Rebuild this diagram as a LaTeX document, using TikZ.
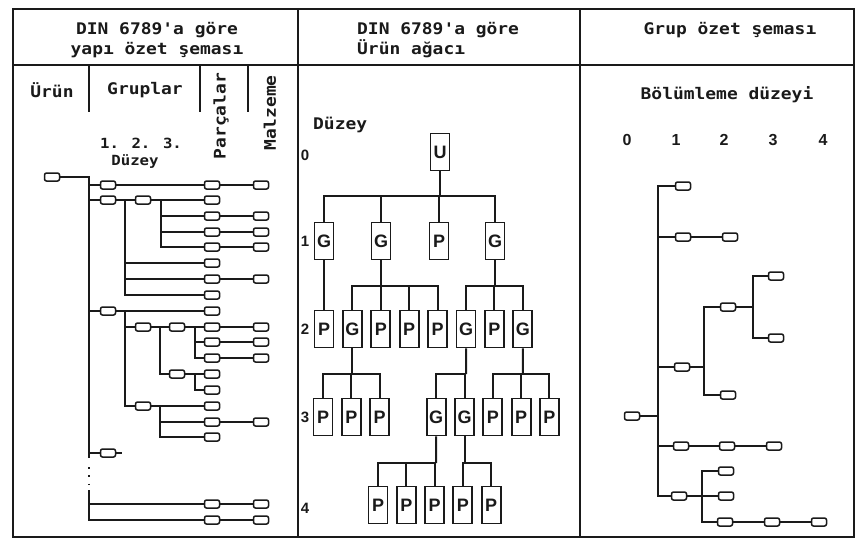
\documentclass[tikz,border=0pt]{standalone}
\usepackage{fontspec}
\usepackage{xcolor}
\usepackage{tikz}
\usetikzlibrary{positioning,calc}
\newfontfamily\dinfont[FakeStretch=1.12]{DejaVu Sans Mono}
\newfontfamily\helvfont{Liberation Sans}
\definecolor{scanblack}{HTML}{1A1A1A}

\tikzset{
  rule/.style={scanblack, line width=1.7pt},
  link/.style={scanblack, line width=1.6pt},
  trunk/.style={scanblack, line width=2pt},
  tinybox/.style={draw=scanblack, line width=1.5pt, rounded corners=2pt, minimum width=15pt, minimum height=8pt, inner sep=0pt, fill=white},
  treebox/.style={draw=scanblack, line width=1.9pt, minimum width=19pt, minimum height=37pt, inner sep=0pt, fill=white, text=scanblack, font=\helvfont\bfseries\fontsize{18}{18}\selectfont},
  headtext/.style={font=\dinfont\bfseries\fontsize{16}{20}\selectfont, inner sep=0pt, text=scanblack},
  smalltext/.style={font=\dinfont\bfseries\fontsize{14}{18}\selectfont, inner sep=0pt, text=scanblack},
  levelnum/.style={font=\helvfont\bfseries\fontsize{15}{15}\selectfont, inner sep=0pt, text=scanblack},
}

\begin{document}
\begin{tikzpicture}[x=1pt,y=-1pt]
  \useasboundingbox (0,0) rectangle (856,541);
  \fill[white] (0,0) rectangle (856,541);
  % frame and headers
  \draw[rule] (13,9) rectangle (854,537);
  \draw[rule] (13,65) -- (854,65);
  \draw[rule] (298,9) -- (298,537);
  \draw[rule] (580,9) -- (580,537);
  \foreach \x in {89,200,248}
    \draw[rule] (\x,65) -- (\x,112);
  \node[headtext, align=center] (head-left) at (157,40) {DIN 6789'a göre\\yapı özet şeması};
  \node[headtext, align=left, anchor=west] (head-mid) at (357,40) {DIN 6789'a göre\\Ürün ağacı};
  \node[headtext] (head-right) at (730,30) {Grup özet şeması};

  % left panel: structure summary
  \node[headtext] (col-urun) at (52,90) {Ürün};
  \node[headtext] (col-grup) at (145,90) {Gruplar};
  \node[headtext, rotate=90] (col-parca) at (221,116) {Parçalar};
  \node[headtext, rotate=90] (col-malz) at (270,113) {Malzeme};
  \node[smalltext] (lvl-grup) at (141,143) {1. 2. 3.};
  \node[smalltext] (lvl-duzey) at (135,162) {Düzey};

  \node[tinybox] (urun) at (52,177) {};
  \foreach \n/\y in {a/185,b/200,i/311,r/453}
    \node[tinybox] (g1-\n) at (108,\y) {};
  \foreach \n/\y in {b/200,j/327,o/406}
    \node[tinybox] (g2-\n) at (143,\y) {};
  \foreach \n/\y in {j/327,m/374}
    \node[tinybox] (g3-\n) at (177,\y) {};
  \foreach \n/\y in {a/185,b/200,c/216,d/232,e/247,f/263,g/279,h/295,i/311,j/327,k/342,l/358,m/374,n/390,o/406,p/422,q/437,s/504,t/520}
    \node[tinybox] (pa-\n) at (212,\y) {};
  \foreach \n/\y in {a/185,c/216,d/232,e/247,g/279,j/327,k/342,l/358,p/422,s/504,t/520}
    \node[tinybox] (ma-\n) at (261,\y) {};

  \coordinate (sp-top) at (89,177);
  \coordinate (sp-cut) at (89,458);
  \coordinate (sp-dot1) at (89,467);
  \coordinate (sp-dot2) at (89,486);
  \coordinate (sp-on) at (89,490);
  \coordinate (sp-bot) at (89,520);
  \draw[link] (urun) -- (sp-top) -- (sp-cut);
  \draw[link, dash pattern=on 1.6pt off 6.7pt] (sp-dot1) -- (sp-dot2);
  \draw[link] (sp-on) -- (sp-bot) -- (pa-t);
  \draw[link] (sp-on) |- (pa-s);
  \foreach \n in {a,b,i,r}
    \draw[link] (sp-top) |- (g1-\n);
  \foreach \n in {a,c,d,e,g,j,k,l,p,s,t}
    \draw[link] (pa-\n) -- (ma-\n);

  \draw[link] (g1-a) -- (pa-a);
  \draw[link] (g1-b) -- (g2-b) (g2-b) -- (pa-b);
  \coordinate (j1-b) at (125,200);
  \foreach \n in {f,g,h}
    \draw[link] (j1-b) |- (pa-\n);
  \coordinate (j2-b) at (161,200);
  \foreach \n in {c,d,e}
    \draw[link] (j2-b) |- (pa-\n);

  \draw[link] (g1-i) -- (pa-i);
  \coordinate (j1-i) at (125,311);
  \foreach \n in {j,o}
    \draw[link] (j1-i) |- (g2-\n);
  \draw[link] (g2-j) -- (g3-j) (g3-j) -- (pa-j);
  \coordinate (j2-j) at (160,327);
  \draw[link] (j2-j) |- (g3-m);
  \coordinate (j3-j) at (195,327);
  \foreach \n in {k,l}
    \draw[link] (j3-j) |- (pa-\n);
  \draw[link] (g3-m) -- (pa-m);
  \coordinate (j3-m) at (195,374);
  \draw[link] (j3-m) |- (pa-n);
  \draw[link] (g2-o) -- (pa-o);
  \coordinate (j2-o) at (160,406);
  \foreach \n in {p,q}
    \draw[link] (j2-o) |- (pa-\n);
  \coordinate (stub-r) at (122,453);
  \draw[link] (g1-r) -- (stub-r);

  % middle panel: product tree
  \node[headtext, anchor=west] (duzey-mid) at (313,125) {Düzey};
  \foreach \d/\y in {0/155,1/241,2/329,3/417,4/508}
    \node[levelnum] (lv\d) at (305,\y) {\d};

  \node[treebox] (u) at (440,152) {U};
  \foreach \i/\x/\t in {1/324/G,2/381/G,3/439/P,4/495/G}
    \node[treebox] (t1-\i) at (\x,241) {\t};
  \foreach \t [count=\i from 0] in {P,G,P,P,P,G,P,G}
    \node[treebox] (t2-\i) at ({324+28.4*\i},329) {\t};
  \foreach \i/\t in {0/P,1/P,2/P,4/G,5/G,6/P,7/P,8/P}
    \node[treebox] (t3-\i) at ({323+28.3*\i},417) {\t};
  \foreach \i in {0,...,4}
    \node[treebox] (t4-\i) at ({378+28.3*\i},505) {P};

  \coordinate (k0) at (440,196);
  \draw[trunk] (u) -- (k0);
  \foreach \i in {1,...,4}
    \draw[trunk] (t1-\i) |- (k0);
  \draw[trunk] (t1-1) -- (t2-0);
  \coordinate (k12) at (381,286);
  \draw[trunk] (t1-2) -- (k12);
  \foreach \i in {1,...,4}
    \draw[trunk] (t2-\i) |- (k12);
  \coordinate (k14) at (495,286);
  \draw[trunk] (t1-4) -- (k14);
  \foreach \i in {5,6,7}
    \draw[trunk] (t2-\i) |- (k14);
  \coordinate (k21) at (352.4,374);
  \draw[trunk] (t2-1) -- (k21);
  \foreach \i in {0,1,2}
    \draw[trunk] (t3-\i) |- (k21);
  \coordinate (k25) at (466,374);
  \draw[trunk] (t2-5) -- (k25);
  \foreach \i in {4,5}
    \draw[trunk] (t3-\i) |- (k25);
  \coordinate (k27) at (522.8,374);
  \draw[trunk] (t2-7) -- (k27);
  \foreach \i in {6,7,8}
    \draw[trunk] (t3-\i) |- (k27);
  \coordinate (k34) at (436.2,463);
  \draw[trunk] (t3-4) -- (k34);
  \foreach \i in {0,1,2}
    \draw[trunk] (t4-\i) |- (k34);
  \coordinate (k35) at (464.5,463);
  \draw[trunk] (t3-5) -- (k35);
  \foreach \i in {3,4}
    \draw[trunk] (t4-\i) |- (k35);

  % right panel: group summary
  \node[headtext] (sec-title) at (727,95) {Bölümleme düzeyi};
  \foreach \d/\x in {0/627,1/676,2/724,3/773,4/823}
    \node[levelnum, font=\helvfont\bfseries\fontsize{16}{16}\selectfont] (rl-\d) at (\x,140) {\d};

  \node[tinybox] (r0) at (632,416) {};
  \node[tinybox] (r1a) at (683,186) {};
  \node[tinybox] (r1b) at (683,237) {};
  \node[tinybox] (r2b) at (730,237) {};
  \node[tinybox] (r1c) at (682,367) {};
  \node[tinybox] (r2c) at (728,307) {};
  \node[tinybox] (r2d) at (728,395) {};
  \node[tinybox] (r3a) at (776,276) {};
  \node[tinybox] (r3b) at (776,338) {};
  \node[tinybox] (r1d) at (681,446) {};
  \node[tinybox] (r2e) at (727,446) {};
  \node[tinybox] (r3c) at (774,446) {};
  \node[tinybox] (r1e) at (679,496) {};
  \node[tinybox] (r2f) at (726,471) {};
  \node[tinybox] (r2g) at (726,496) {};
  \node[tinybox] (r2h) at (725,522) {};
  \node[tinybox] (r3d) at (772,522) {};
  \node[tinybox] (r4a) at (819,522) {};

  \coordinate (rsp-top) at (658,186);
  \coordinate (rsp-bot) at (658,496);
  \draw[link] (r1a) -| (rsp-bot) -- (r1e);
  \foreach \n in {r0,r1b,r1c,r1d}
    \draw[link] (\n) -- (\n -| rsp-top);
  \draw[link] (r1b) -- (r2b);
  \coordinate (rj-c) at (704,367);
  \draw[link] (r1c) -- (rj-c);
  \draw[link] (r2c) -| (rj-c);
  \draw[link] (r2d) -| (rj-c);
  \coordinate (rj-cc) at (753,307);
  \draw[link] (r2c) -- (rj-cc);
  \draw[link] (r3a) -| (rj-cc);
  \draw[link] (r3b) -| (rj-cc);
  \draw[link] (r1d) -- (r2e) (r2e) -- (r3c);
  \coordinate (rj-e) at (702,496);
  \draw[link] (r1e) -- (r2g);
  \draw[link] (r2f) -| (rj-e);
  \draw[link] (r2h) -| (rj-e);
  \draw[link] (r2h) -- (r3d) (r3d) -- (r4a);
\end{tikzpicture}
\end{document}
